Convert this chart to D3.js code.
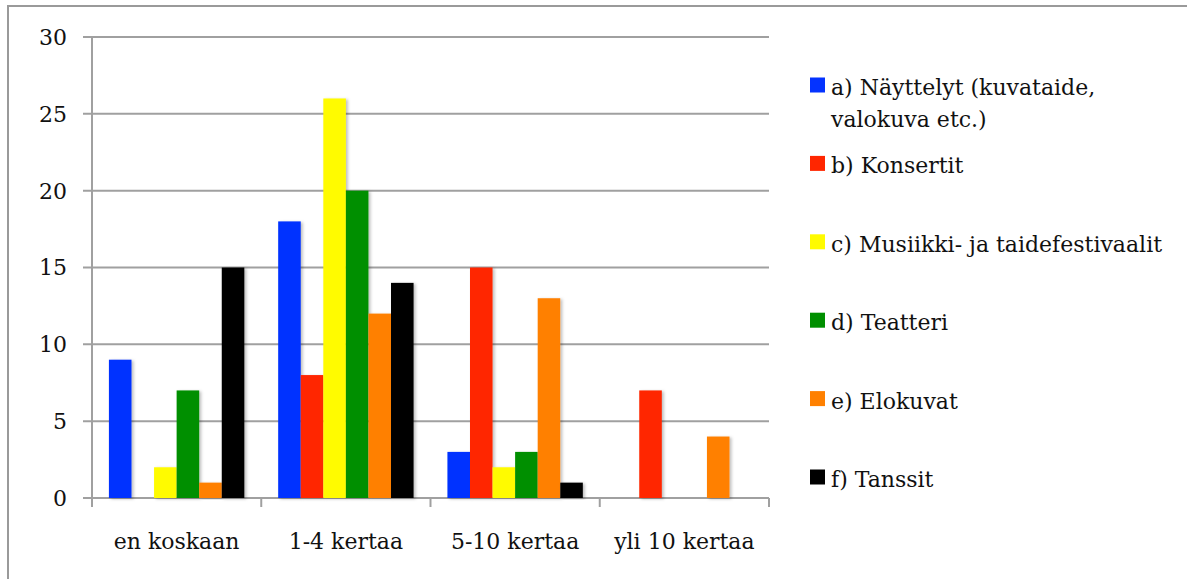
<!DOCTYPE html>
<html>
<head>
<meta charset="utf-8">
<script src="https://cdn.jsdelivr.net/npm/d3@7"></script>
<style>
  html, body { margin: 0; padding: 0; background: #fff; }
  svg { display: block; }
  text { font-family: "DejaVu Serif", "Liberation Serif", serif; fill: #111; }
</style>
</head>
<body>
<svg id="chart" width="1187" height="579"></svg>
<script>
const categories = ["en koskaan", "1-4 kertaa", "5-10 kertaa", "yli 10 kertaa"];
const seriesNames = [
  "a) Näyttelyt (kuvataide,\nvalokuva etc.)",
  "b) Konsertit",
  "c) Musiikki- ja taidefestivaalit",
  "d) Teatteri",
  "e) Elokuvat",
  "f) Tanssit"
];
const seriesColors = ["#0433ff", "#ff2600", "#fffb00", "#008f00", "#ff8000", "#000000"];
const valuesA = [9, 18, 3, 0];
const valuesB = [0, 8, 15, 7];
const valuesC = [2, 26, 2, 0];
const valuesD = [7, 20, 3, 0];
const valuesE = [1, 12, 13, 4];
const valuesF = [15, 14, 1, 0];
const yTicks = [0, 5, 10, 15, 20, 25, 30];

const seriesValues = [valuesA, valuesB, valuesC, valuesD, valuesE, valuesF];

const svg = d3.select("#chart");
const gridColor = "#a0a0a0";

// outer frame
svg.append("rect")
  .attr("x", 8).attr("y", 6)
  .attr("width", 1300).attr("height", 700)
  .attr("fill", "none").attr("stroke", "#9a9a9a").attr("stroke-width", 2);

const defs = svg.append("defs");
const flt = defs.append("filter").attr("id", "shadow")
  .attr("x", "-20%").attr("y", "-5%").attr("width", "150%").attr("height", "115%");
flt.append("feDropShadow").attr("dx", 2).attr("dy", 1).attr("stdDeviation", 1.5)
  .attr("flood-color", "#000").attr("flood-opacity", 0.25);

const plotLeft = 92, plotRight = 769, plotTop = 37, plotBottom = 498;

const x0 = d3.scaleBand().domain(categories).range([plotLeft, plotRight]).paddingInner(0).paddingOuter(0);
const x1 = d3.scaleBand().domain(d3.range(seriesNames.length))
  .range([0, x0.bandwidth()]).paddingInner(0).paddingOuter(0.75);
const y = d3.scaleLinear().domain([0, 30]).range([plotBottom, plotTop]);

// gridlines
svg.append("g").selectAll("line").data(yTicks).join("line")
  .attr("x1", plotLeft - 9).attr("x2", plotRight)
  .attr("y1", d => y(d)).attr("y2", d => y(d))
  .attr("stroke", gridColor).attr("stroke-width", 2);

// y axis line
svg.append("line").attr("x1", plotLeft).attr("x2", plotLeft).attr("y1", plotTop).attr("y2", plotBottom)
  .attr("stroke", gridColor).attr("stroke-width", 2);

// x category tick marks
const xTickPos = categories.map(c => x0(c)).concat([plotRight]);
svg.append("g").selectAll("line").data(xTickPos).join("line")
  .attr("x1", d => d).attr("x2", d => d)
  .attr("y1", plotBottom).attr("y2", plotBottom + 9)
  .attr("stroke", gridColor).attr("stroke-width", 2);

// y tick labels
svg.append("g").selectAll("text").data(yTicks).join("text")
  .attr("x", 67).attr("y", d => y(d))
  .attr("dy", "0.36em")
  .attr("text-anchor", "end")
  .attr("font-size", 22)
  .text(d => d);

// bars
const groups = svg.append("g").selectAll("g").data(categories).join("g")
  .attr("transform", c => `translate(${x0(c)},0)`);
groups.selectAll("rect")
  .data((c, ci) => seriesValues.map((vals, si) => ({ si, v: vals[ci] })).filter(d => d.v > 0))
  .join("rect")
  .attr("x", d => x1(d.si))
  .attr("width", x1.bandwidth())
  .attr("y", d => y(d.v))
  .attr("height", d => y(0) - y(d.v))
  .attr("fill", d => seriesColors[d.si])
  .attr("filter", "url(#shadow)");

// x labels
svg.append("g").selectAll("text").data(categories).join("text")
  .attr("x", c => x0(c) + x0.bandwidth() / 2)
  .attr("y", 549)
  .attr("text-anchor", "middle")
  .attr("font-size", 22)
  .text(c => c);

// legend
const legend = svg.append("g");
const legY = d3.scaleLinear().domain([0, 5]).range([85, 477]);
seriesNames.forEach((name, i) => {
  const cy = legY(i);
  legend.append("rect")
    .attr("x", 810).attr("y", cy - 7.5).attr("width", 15).attr("height", 15)
    .attr("fill", seriesColors[i]);
  const t = legend.append("text")
    .attr("x", 831).attr("y", cy + 10)
    .attr("font-size", 22);
  name.split("\n").forEach((line, li) => {
    t.append("tspan").attr("x", 831).attr("dy", li === 0 ? 0 : 32).text(line);
  });
});
</script>
</body>
</html>
